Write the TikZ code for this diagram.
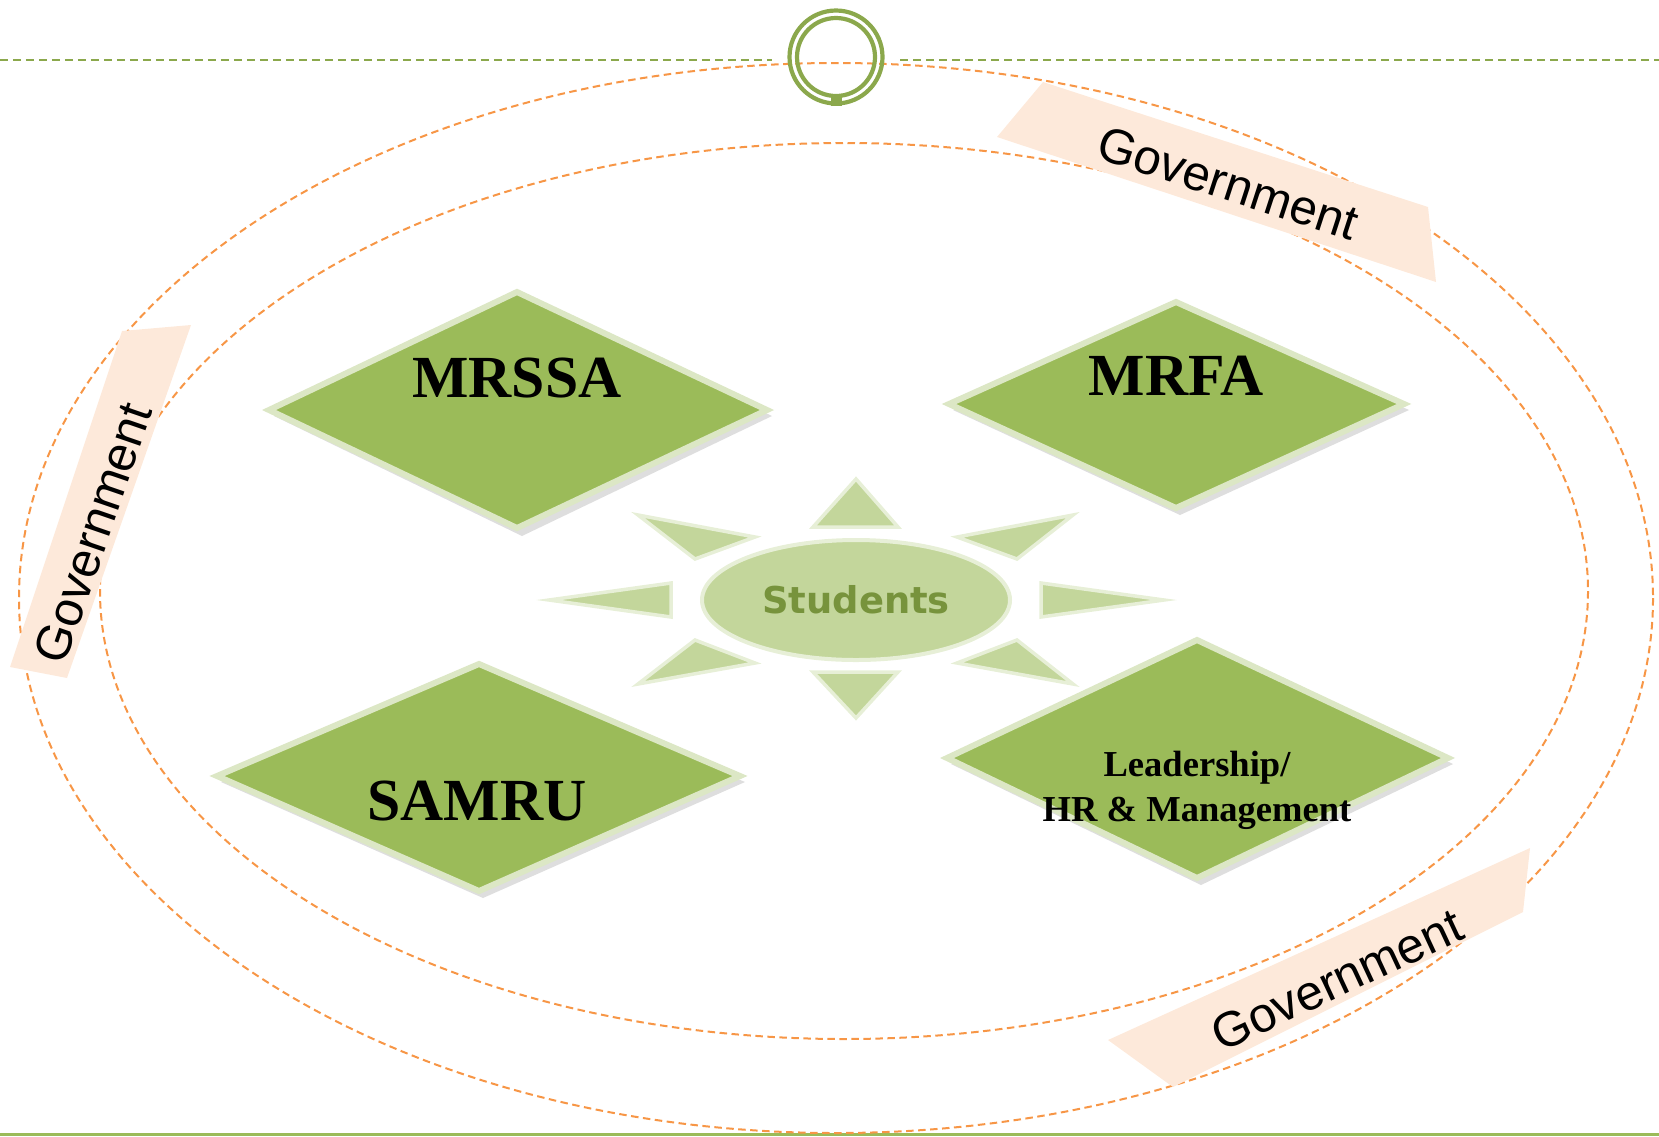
\documentclass[tikz,border=0pt]{standalone}
\usepackage{fontspec}
\setmainfont{Liberation Serif}
\setsansfont{Liberation Sans}
\newfontfamily\studfont{DejaVu Sans}
\usetikzlibrary{shapes.geometric}

\definecolor{ringGreen}{RGB}{139,168,76}
\definecolor{govOrange}{RGB}{247,150,70}
\definecolor{govPeach}{RGB}{253,233,218}
\definecolor{bodyGreen}{RGB}{155,187,89}
\definecolor{rayGreen}{RGB}{195,214,155}
\definecolor{studText}{RGB}{119,147,60}

\begin{document}
\begin{tikzpicture}[x=0.1mm, y=-0.1mm,
    orbit/.style={draw=govOrange, line width=0.2mm, dash pattern=on 0.75mm off 0.45mm},
    banner/.style={fill=govPeach},
    govtext/.style={font=\sffamily\fontsize{14}{16}\selectfont, inner sep=0pt},
    bodyshadow/.style={fill=black!13},
    bodybox/.style={fill=bodyGreen, draw=bodyGreen!35!white, line width=0.6mm, line join=miter},
    bodytext/.style={font=\bfseries\fontsize{17}{20}\selectfont, inner sep=0pt},
    ray/.style={fill=rayGreen, draw=rayGreen!40!white, line width=0.35mm, line join=miter}]
    \useasboundingbox (0,0) rectangle (1659,1136);

    % frame lines and ring
    \draw[ringGreen, line width=0.2mm, dash pattern=on 0.8mm off 0.5mm] (0,60) -- (772,60);
    \draw[ringGreen, line width=0.2mm, dash pattern=on 0.8mm off 0.5mm] (900,60) -- (1659,60);
    \fill[bodyGreen] (0,1133) rectangle (1659,1136);

    % orbits
    \draw[orbit] (836,598) ellipse [x radius=817, y radius=535];
    \draw[orbit] (844,591) ellipse [x radius=744, y radius=448];

    \draw[ringGreen, line width=0.42mm] (836,57) circle [radius=46.5];
    \draw[ringGreen, line width=0.42mm] (836,57) circle [radius=39];
    \fill[ringGreen] (831,96) rectangle (842,106);

    % government banners
    \fill[banner] (1043,82) -- (1428,207) -- (1436,282) -- (997,137) -- cycle;
    \fill[banner] (122,331) -- (191,325) -- (67,678) -- (10,667) -- cycle;
    \fill[banner] (1108,1040) -- (1530,848) -- (1523,912) -- (1173,1087) -- cycle;
    \node[govtext, rotate=-18] (govTop) at (1228,183) {Government};
    \node[govtext, rotate=71] (govLeft) at (93,533) {Government};
    \node[govtext, rotate=25] (govBottom) at (1337,980) {Government};

    % the four bodies
    \fill[bodyshadow] (274,416) -- (522,298) -- (772,416) -- (522,536) -- cycle;
    \draw[bodybox] (269,410) -- (517,292) -- (767,410) -- (517,528) -- cycle;
    \fill[bodyshadow] (953,410) -- (1180,308) -- (1409,410) -- (1180,515) -- cycle;
    \draw[bodybox] (949,404) -- (1176,302) -- (1404,404) -- (1176,508) -- cycle;
    \fill[bodyshadow] (221,782) -- (483,670) -- (745,782) -- (483,898) -- cycle;
    \draw[bodybox] (217,776) -- (479,664) -- (740,776) -- (479,891) -- cycle;
    \fill[bodyshadow] (951,764) -- (1201,646) -- (1453,764) -- (1201,885) -- cycle;
    \draw[bodybox] (947,758) -- (1197,640) -- (1448,758) -- (1197,878) -- cycle;

    \node[bodytext] (mrssa) at (517,378) {MRSSA};
    \node[bodytext] (mrfa) at (1176,376) {MRFA};
    \node[bodytext] (samru) at (477,801) {SAMRU};
    \node[bodytext, font=\bfseries\fontsize{10.4}{12.8}\selectfont, align=center] (lead) at (1197,790) {Leadership/\\HR \& Management};

    % rays round the students
    \draw[ray] (856,479) -- (898,527) -- (813,527) -- cycle;
    \draw[ray] (856,718) -- (898,672) -- (813,672) -- cycle;
    \draw[ray] (549,600) -- (671,583) -- (671,617) -- cycle;
    \draw[ray] (1164,600) -- (1041,583) -- (1041,617) -- cycle;
    \draw[ray] (638,515) -- (755,537) -- (695,559) -- cycle;
    \draw[ray] (1073,515) -- (957,537) -- (1017,559) -- cycle;
    \draw[ray] (638,684) -- (755,663) -- (695,640) -- cycle;
    \draw[ray] (1073,684) -- (957,663) -- (1017,640) -- cycle;

    \node[ellipse, fill=rayGreen, draw=rayGreen!40!white, line width=0.4mm,
          minimum width=30.8mm, minimum height=12mm,
          font=\studfont\bfseries\fontsize{10.5}{12}\selectfont, text=studText] (stud) at (856,600) {Students};
\end{tikzpicture}
\end{document}
